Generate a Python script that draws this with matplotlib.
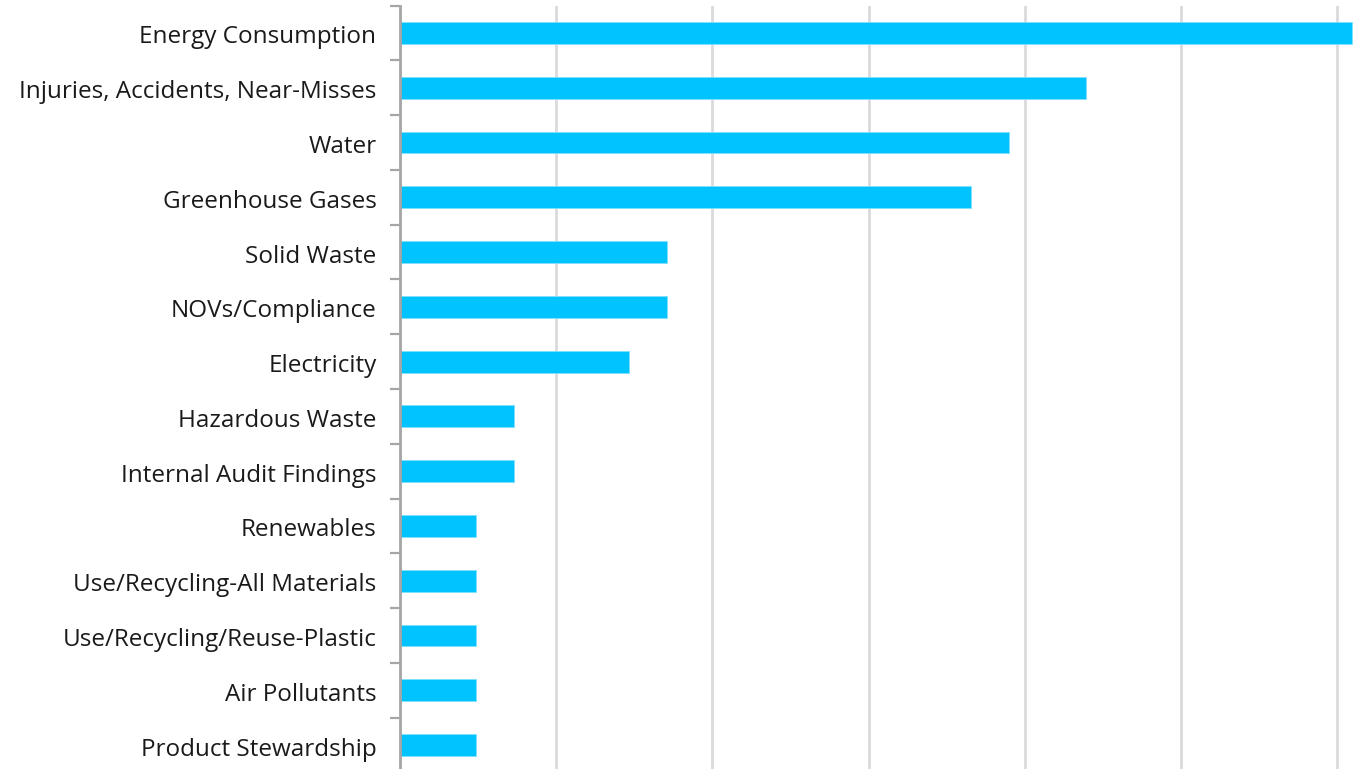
import matplotlib
matplotlib.use("Agg")
import matplotlib.pyplot as plt
from matplotlib.ticker import MultipleLocator, FixedLocator, NullFormatter
from matplotlib.transforms import ScaledTranslation

plt.rcParams['font.family'] = ['Open Sans', 'DejaVu Sans']

categories = [
    "Energy Consumption",
    "Injuries, Accidents, Near-Misses",
    "Water",
    "Greenhouse Gases",
    "Solid Waste",
    "NOVs/Compliance",
    "Electricity",
    "Hazardous Waste",
    "Internal Audit Findings",
    "Renewables",
    "Use/Recycling-All Materials",
    "Use/Recycling/Reuse-Plastic",
    "Air Pollutants",
    "Product Stewardship",
]
# share of respondents tracking each metric (%)
values = [60.98, 43.90, 39.02, 36.59, 17.07, 17.07, 14.63,
          7.32, 7.32, 4.88, 4.88, 4.88, 4.88, 4.88]

fig = plt.figure(figsize=(13.54, 7.69), dpi=100)
ax = fig.add_axes([400 / 1354, 1 - 772.4 / 769, 954 / 1354, 766.8 / 769])

y = list(range(len(categories)))
ax.barh(y, values, height=0.4, color="#00C3FF", edgecolor="#7FDFFF",
        linewidth=0.6, zorder=3)

ax.set_ylim(len(categories) - 0.5, -0.5)
ax.set_xlim(0, 61.08)
ax.set_yticks(y)
ax.set_yticklabels(categories, fontsize=17.5, color="#1a1a1a")
ax.yaxis.set_minor_locator(FixedLocator([i + 0.5 for i in range(-1, len(categories))]))
ax.tick_params(axis="y", which="major", length=0, pad=17)
ax.tick_params(axis="y", which="minor", length=7, width=1.6, color="#A6A6A6")
shift = ScaledTranslation(0, -1.5 / 100, fig.dpi_scale_trans)
for lbl in ax.get_yticklabels():
    lbl.set_transform(lbl.get_transform() + shift)

ax.xaxis.set_major_locator(MultipleLocator(10))
ax.xaxis.set_major_formatter(NullFormatter())
ax.tick_params(axis="x", length=0)
ax.grid(axis="x", color="#DADADA", linewidth=2, zorder=0)
ax.set_axisbelow(True)

for side in ("top", "right", "bottom"):
    ax.spines[side].set_visible(False)
ax.spines["left"].set_color("#A6A6A6")
ax.spines["left"].set_linewidth(2)
ax.spines["left"].set_zorder(4)

fig.savefig("out.png", dpi=100)
